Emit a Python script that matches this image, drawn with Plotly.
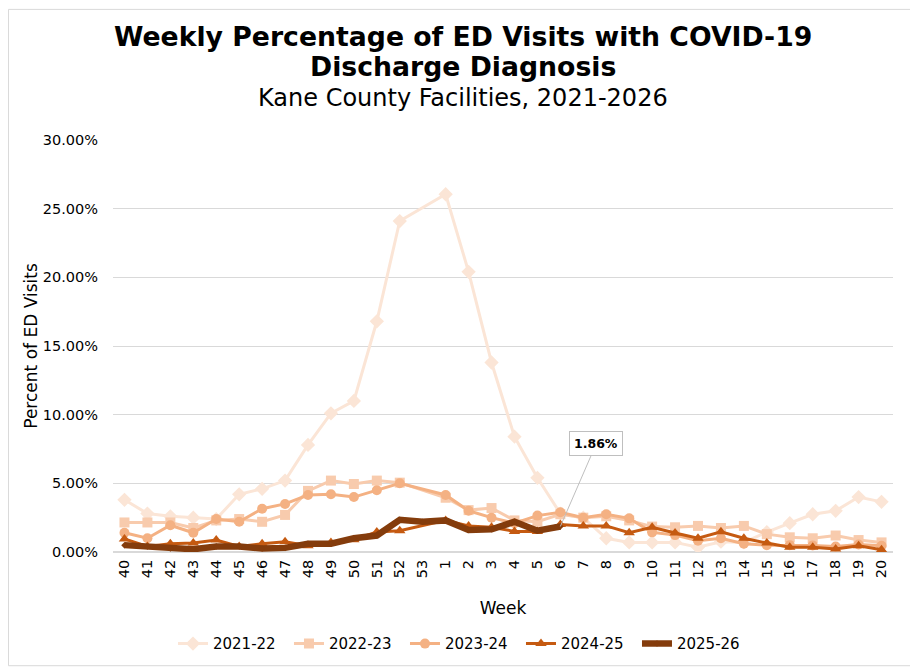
import plotly.graph_objects as go

weeks = [str(w) for w in list(range(40, 54)) + list(range(1, 21))]

seasons = ["2021-22", "2022-23", "2023-24", "2024-25", "2025-26"]

pct_2021_22 = [3.8, 2.8, 2.6, 2.5, 2.4, 4.2, 4.6, 5.2, 7.8, 10.1, 11.0, 16.8, 24.1, None,
               26.05, 20.4, 13.8, 8.4, 5.4, 2.8, 2.5, 1.0, 0.7, 0.7, 0.7, 0.35, 0.75, 0.7,
               1.45, 2.1, 2.75, 3.0, 4.0, 3.65]
pct_2022_23 = [2.15, 2.15, 2.15, 1.75, 2.3, 2.4, 2.2, 2.7, 4.45, 5.2, 4.95, 5.2, 5.05, None,
               3.95, 3.05, 3.2, 2.3, 2.2, 2.75, 2.5, 2.6, 2.3, 1.85, 1.8, 1.9, 1.75, 1.9,
               1.3, 1.07, 1.0, 1.2, 0.87, 0.7]
pct_2023_24 = [1.4, 1.0, 1.95, 1.4, 2.4, 2.2, 3.15, 3.5, 4.15, 4.2, 4.0, 4.5, 5.0, None,
               4.15, 3.0, 2.5, 2.1, 2.65, 2.9, 2.5, 2.75, 2.45, 1.43, 1.23, 0.82, 1.0, 0.6,
               0.5, 0.5, 0.48, 0.4, 0.55, 0.45]
pct_2024_25 = [0.95, 0.4, 0.6, 0.65, 0.87, 0.4, 0.6, 0.75, 0.45, 0.7, 0.9, 1.45, 1.55, None,
               2.3, 1.9, 1.8, 1.5, 1.5, 2.0, 1.9, 1.9, 1.4, 1.8, 1.38, 1.0, 1.47, 1.0,
               0.65, 0.34, 0.34, 0.22, 0.46, 0.17]
pct_2025_26 = [0.5, 0.4, 0.25, 0.2, 0.4, 0.4, 0.25, 0.3, 0.6, 0.6, 1.0, 1.2, 2.35, 2.2,
               2.3, 1.6, 1.65, 2.2, 1.55, 1.86]

colors = ["#fbe5d6", "#f8cbad", "#f4b183", "#c55a11", "#843c0c"]
symbols = ["diamond", "square", "circle", "triangle-up", "diamond"]
widths = [3, 3, 3, 3, 6.5]
sizes = [11, 10, 10, 10, 5]

series = [pct_2021_22, pct_2022_23, pct_2023_24, pct_2024_25, pct_2025_26]

FONT = "DejaVu Sans"

fig = go.Figure()

for name, vals, color, sym, w, s in zip(seasons, series, colors, symbols, widths, sizes):
    fig.add_trace(
        go.Scatter(
            x=weeks[:len(vals)],
            y=vals,
            name=name,
            mode="lines+markers",
            connectgaps=True,
            line=dict(color=color, width=w),
            marker=dict(symbol=sym, size=s, color=color),
        )
    )

# label on the latest point of the current season (category index)
last_idx = len(pct_2025_26) - 1
fig.add_annotation(
    x=last_idx,
    y=pct_2025_26[-1],
    text=f"<b>{pct_2025_26[-1]:.2f}%</b>",
    showarrow=True,
    arrowhead=0,
    arrowwidth=1,
    arrowcolor="#bfbfbf",
    ax=36,
    ay=-83,
    bgcolor="white",
    bordercolor="#bfbfbf",
    borderwidth=1,
    borderpad=4,
    font=dict(family=FONT, size=12.5, color="black"),
)

# titles are centred on the whole chart, not the plot area
title_x = 0.4487
title_lines = [
    ("<b>Weekly Percentage of ED Visits with COVID-19</b>", 1.252, 26.7),
    ("<b>Discharge Diagnosis</b>", 1.179, 26.7),
    ("Kane County Facilities, 2021-2026", 1.102, 24),
]
for txt, ypos, size in title_lines:
    fig.add_annotation(
        text=txt,
        xref="paper", yref="paper",
        x=title_x, y=ypos, yanchor="middle",
        showarrow=False,
        font=dict(family=FONT, size=size, color="black"),
    )

# thin frame round the chart
fig.add_shape(
    type="rect", xref="paper", yref="paper",
    x0=-0.134, x1=1.027, y0=-0.276, y1=1.317,
    line=dict(color="#d9d9d9", width=1),
)

fig.update_layout(
    width=910,
    height=663,
    paper_bgcolor="white",
    plot_bgcolor="white",
    font=dict(family=FONT, size=14, color="black"),
    margin=dict(l=105, r=25, t=132, b=118),
    showlegend=True,
    legend=dict(
        orientation="h",
        x=0.4487, xanchor="center",
        y=-0.22, yanchor="middle",
        font=dict(size=15),
        itemwidth=30,
        entrywidth=71,
        entrywidthmode="pixels",
    ),
    xaxis=dict(
        type="category",
        range=[-0.5, len(weeks) - 0.5],
        automargin=False,
        title=dict(text="Week", font=dict(size=17), standoff=24),
        tickangle=-90,
        showgrid=False,
        showline=False,
        ticks="",
        ticklabelstandoff=4,
        tickfont=dict(size=14.5),
    ),
    yaxis=dict(
        automargin=False,
        title=dict(text="Percent of ED Visits", font=dict(size=17), standoff=0),
        range=[0, 30],
        dtick=5,
        tickformat=".2f",
        ticksuffix="%",
        gridcolor="#d9d9d9",
        zeroline=True,
        zerolinecolor="#d9d9d9",
        showline=False,
        ticks="",
        ticklabelstandoff=14,
        tickfont=dict(size=14.5),
    ),
)

fig.write_html("out.html")
